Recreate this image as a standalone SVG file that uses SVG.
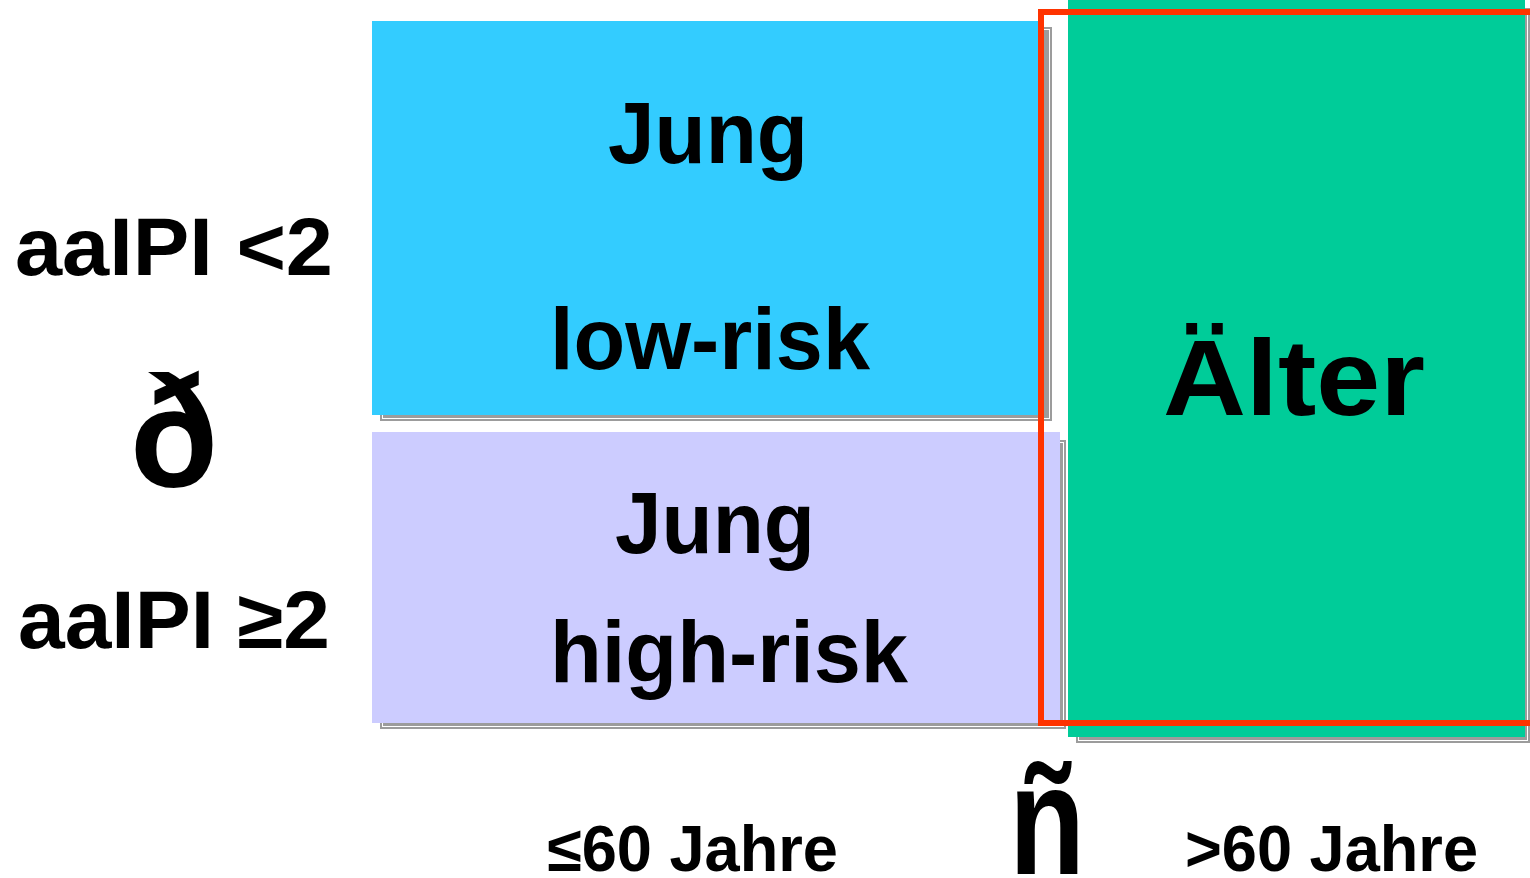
<svg xmlns="http://www.w3.org/2000/svg" width="1530" height="878" viewBox="0 0 1530 878">
<style>
.t{font-family:"Liberation Sans",Arial,sans-serif;font-weight:bold;fill:#000}
.sh{fill:#9c9c9c}
.shl{fill:none;stroke:#fff;stroke-width:1}
</style>
<rect width="1530" height="878" fill="#fff"/>
<g id="green-node">
<rect class="sh" x="1076" y="8" width="454" height="735"/>
<rect class="shl" x="1078.5" y="10.5" width="449" height="730"/>
<rect x="1068" y="0" width="457" height="737" fill="#00cc99"/>
<text class="t" x="1294" y="415" font-size="108" text-anchor="middle" textLength="262" lengthAdjust="spacingAndGlyphs">Älter</text>
</g>
<g id="blue-node">
<rect class="sh" x="380" y="27" width="672" height="394"/>
<rect class="shl" x="382.5" y="29.5" width="667" height="389"/>
<rect x="372" y="21" width="672" height="394" fill="#33ccff"/>
<text class="t" x="708" y="163" font-size="88" text-anchor="middle" textLength="200" lengthAdjust="spacingAndGlyphs">Jung</text>
<text class="t" x="710" y="369" font-size="88" text-anchor="middle" textLength="320" lengthAdjust="spacingAndGlyphs">low-risk</text>
</g>
<g id="lavender-node">
<rect class="sh" x="380" y="440" width="686" height="289"/>
<rect class="shl" x="382.5" y="442.5" width="681" height="284"/>
<rect x="372" y="432" width="688" height="291" fill="#ccccff"/>
<text class="t" x="715" y="553" font-size="88" text-anchor="middle" textLength="200" lengthAdjust="spacingAndGlyphs">Jung</text>
<text class="t" x="729" y="682" font-size="88" text-anchor="middle" textLength="358" lengthAdjust="spacingAndGlyphs">high-risk</text>
</g>
<g id="highlight">
<rect x="1041" y="12" width="495" height="711" fill="none" stroke="#ff3300" stroke-width="6"/>
</g>
<g id="labels">
<text class="t" x="15" y="275" font-size="82" textLength="318" lengthAdjust="spacingAndGlyphs">aaIPI &lt;2</text>
<text class="t" x="174" y="486" font-size="158" text-anchor="middle" textLength="88" lengthAdjust="spacingAndGlyphs">ð</text>
<text class="t" x="18" y="648" font-size="82" textLength="312" lengthAdjust="spacingAndGlyphs">aaIPI ≥2</text>
<text class="t" x="547" y="871" font-size="64" textLength="291" lengthAdjust="spacingAndGlyphs">≤60 Jahre</text>
<text class="t" x="1047" y="874" font-size="156" text-anchor="middle" textLength="76" lengthAdjust="spacingAndGlyphs">ñ</text>
<text class="t" x="1185" y="871" font-size="64" textLength="293" lengthAdjust="spacingAndGlyphs">&gt;60 Jahre</text>
</g>
<g id="connectors"/>
</svg>
